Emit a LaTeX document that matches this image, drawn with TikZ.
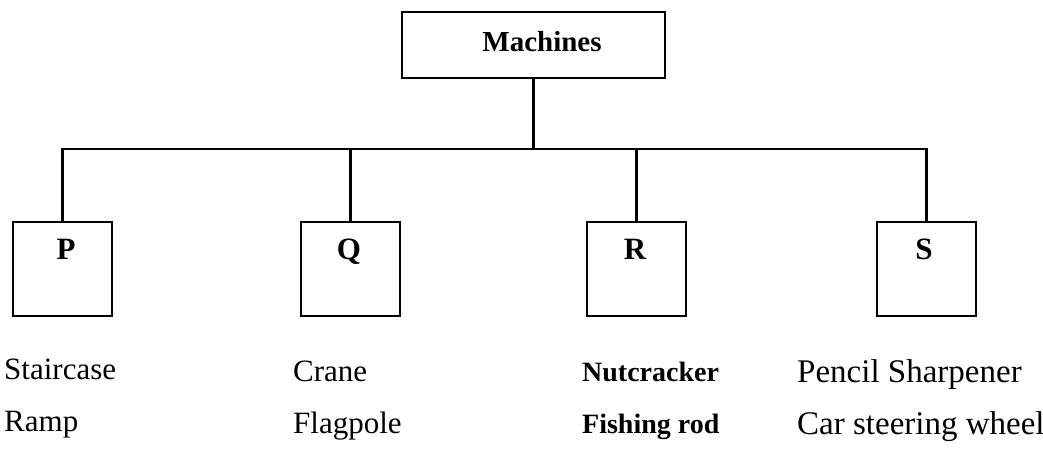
\documentclass[tikz,border=0pt]{standalone}
\usepackage{fontspec}
\setmainfont{Liberation Serif}
\begin{document}
\begin{tikzpicture}[x=1pt,y=-1pt,
  box/.style={draw, line width=2.6pt, minimum width=99pt, minimum height=94pt, inner sep=0pt},
  topbox/.style={draw, line width=2.6pt, minimum width=263pt, minimum height=66pt, inner sep=0pt},
  lbl/.style={font=\fontsize{31}{31}\selectfont\bfseries, anchor=base, inner sep=0pt},
  item/.style={font=\fontsize{31}{31}\selectfont, anchor=base west, inner sep=0pt},
  conn/.style={line width=2.6pt}]
\useasboundingbox (0,0) rectangle (1043,450);
\node[topbox] (m) at (533.5,45) {};
\node[lbl, font=\fontsize{29}{29}\selectfont\bfseries] (mt) at (542,51) {Machines};
\coordinate (bus) at (0,149);
\node[box] (p) at (62.5,269) {};
\node[box] (q) at (350.5,269) {};
\node[box] (r) at (636.5,269) {};
\node[box] (s) at (926.5,269) {};
\node[lbl] (pt) at (66,259) {P};
\node[lbl] (qt) at (349,259) {Q};
\node[lbl] (rt) at (635,259) {R};
\node[lbl] (st) at (924,259) {S};
\draw[conn] (m.south) -- (m.south |- bus);
\draw[conn] (p.north) -- (p.north |- bus) -- (s.north |- bus) -- (s.north);
\draw[conn] (q.north) -- (q.north |- bus);
\draw[conn] (r.north) -- (r.north |- bus);
\node[item] (p1) at (4,379) {Staircase};
\node[item] (p2) at (4,431) {Ramp};
\node[item] (q1) at (293,381) {Crane};
\node[item] (q2) at (293,433) {Flagpole};
\node[item, font=\fontsize{28}{28}\selectfont\bfseries] (r1) at (582,381) {Nutcracker};
\node[item, font=\fontsize{28}{28}\selectfont\bfseries] (r2) at (582,433) {Fishing rod};
\node[item, font=\fontsize{33}{33}\selectfont] (s1) at (797,382) {Pencil Sharpener};
\node[item, font=\fontsize{33}{33}\selectfont] (s2) at (797,434) {Car steering wheel};
\end{tikzpicture}
\end{document}
